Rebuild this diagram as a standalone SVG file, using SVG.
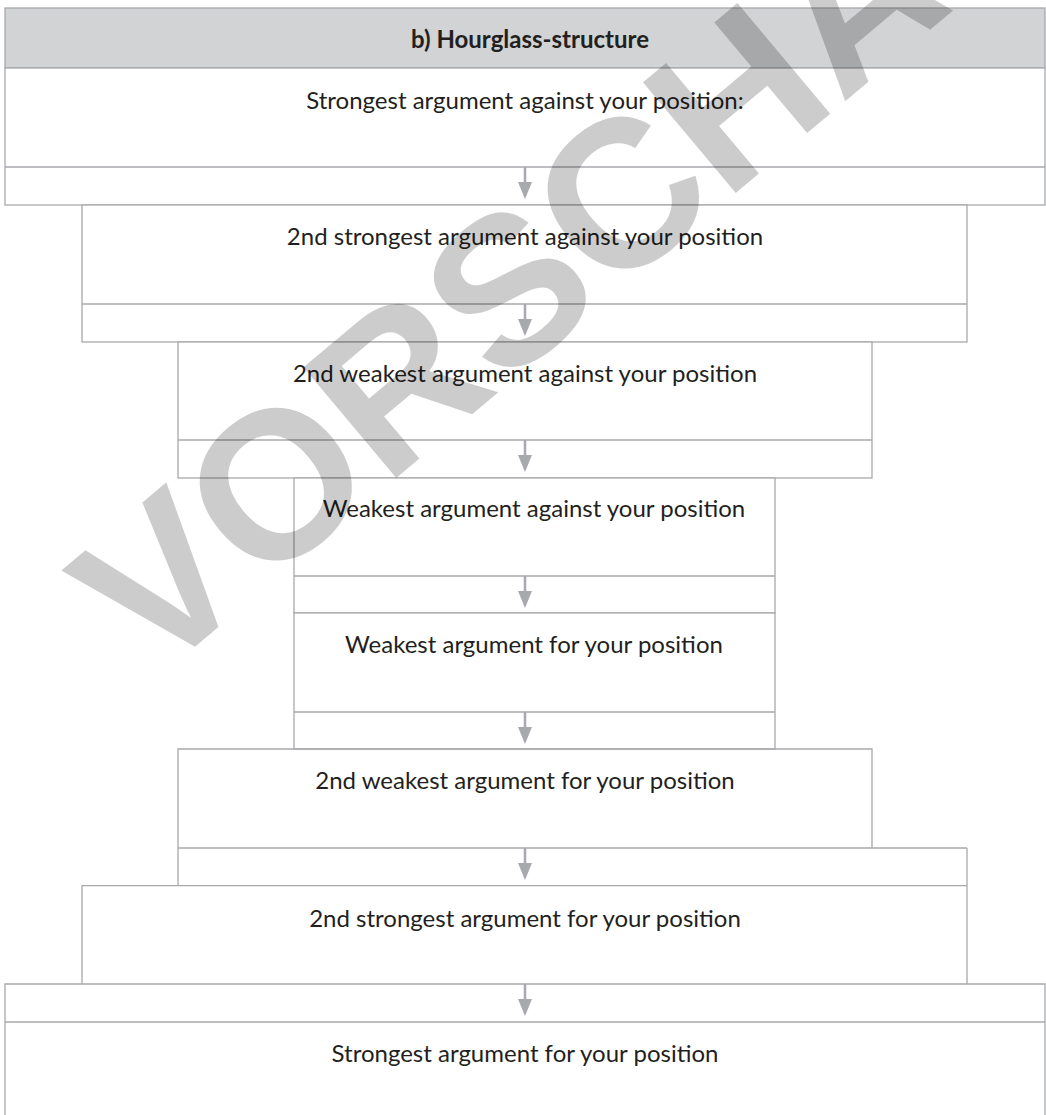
<svg xmlns="http://www.w3.org/2000/svg" width="1046" height="1115" viewBox="0 0 1046 1115">
<defs>
<style>
.box{fill:#ffffff;stroke:#a7a9ac;stroke-width:1.3}
.ln{fill:none;stroke:#a7a9ac;stroke-width:1.3}
.hdr{fill:#d1d3d4;stroke:#a7a9ac;stroke-width:1.3}
.t{font-family:Lato,"Open Sans",sans-serif;font-size:24px;fill:#231f20;text-anchor:middle}
.tb{font-family:Lato,"Open Sans",sans-serif;font-size:24px;font-weight:bold;fill:#231f20;text-anchor:middle}
.arr{stroke:#a7a9ac;stroke-width:2.5;fill:none;marker-end:url(#ah)}
.wm{font-family:"Liberation Sans",Arial,sans-serif;font-size:210px;font-weight:bold;fill:#000000;fill-opacity:0.2}
</style>
<marker id="ah" viewBox="0 0 17 14" refX="14" refY="7" markerWidth="17" markerHeight="14" markerUnits="userSpaceOnUse" orient="auto">
<path d="M0,0 L17,7 L0,14 z" fill="#a7a9ac"/>
</marker>
</defs>
<rect width="1046" height="1115" fill="#ffffff"/>

<g id="header">
<rect class="hdr" x="5" y="8" width="1040" height="60"/>
<text class="tb" x="530" y="48">b) Hourglass-structure</text>
</g>

<g id="node1">
<rect class="box" x="5" y="68" width="1040" height="137"/>
<path class="ln" d="M5,167 H1045"/>
<text class="t" x="525" y="109">Strongest argument against your position:</text>
</g>

<g id="node2">
<rect class="box" x="82" y="205" width="885" height="137"/>
<path class="ln" d="M82,304 H967"/>
<text class="t" x="525" y="245">2nd strongest argument against your position</text>
</g>

<g id="node3">
<rect class="box" x="178" y="342" width="694" height="136"/>
<path class="ln" d="M178,440 H872"/>
<text class="t" x="525" y="382">2nd weakest argument against your position</text>
</g>

<g id="node4">
<rect class="box" x="294" y="478" width="481" height="135"/>
<path class="ln" d="M294,576 H775"/>
<text class="t" x="534" y="517">Weakest argument against your position</text>
</g>

<g id="node5">
<rect class="box" x="294" y="613" width="481" height="136"/>
<path class="ln" d="M294,712 H775"/>
<text class="t" x="534" y="653">Weakest argument for your position</text>
</g>

<g id="node6">
<path class="ln" d="M178,885.7 V749 H872 V848"/>
<path class="ln" d="M178,848 H967"/>
<text class="t" x="525" y="789">2nd weakest argument for your position</text>
</g>

<g id="node7">
<path class="ln" d="M967,848 V984 M82,984 V885.7 H967"/>
<text class="t" x="525" y="927">2nd strongest argument for your position</text>
</g>

<g id="node8">
<path class="ln" d="M5,1116 V984 H1045 V1116"/>
<path class="ln" d="M5,1022 H1045"/>
<text class="t" x="525" y="1062">Strongest argument for your position</text>
</g>

<g id="connectors">
<line class="arr" x1="525" y1="167" x2="525" y2="196"/>
<line class="arr" x1="525" y1="304" x2="525" y2="333"/>
<line class="arr" x1="525" y1="440" x2="525" y2="469"/>
<line class="arr" x1="525" y1="576" x2="525" y2="605"/>
<line class="arr" x1="525" y1="712" x2="525" y2="741"/>
<line class="arr" x1="525" y1="848" x2="525" y2="877"/>
<line class="arr" x1="525" y1="984" x2="525" y2="1013"/>
</g>

<g id="watermark">
<text class="wm" transform="translate(153,682) rotate(-40)" x="0" y="0">VORSCHAU</text>
</g>
</svg>
